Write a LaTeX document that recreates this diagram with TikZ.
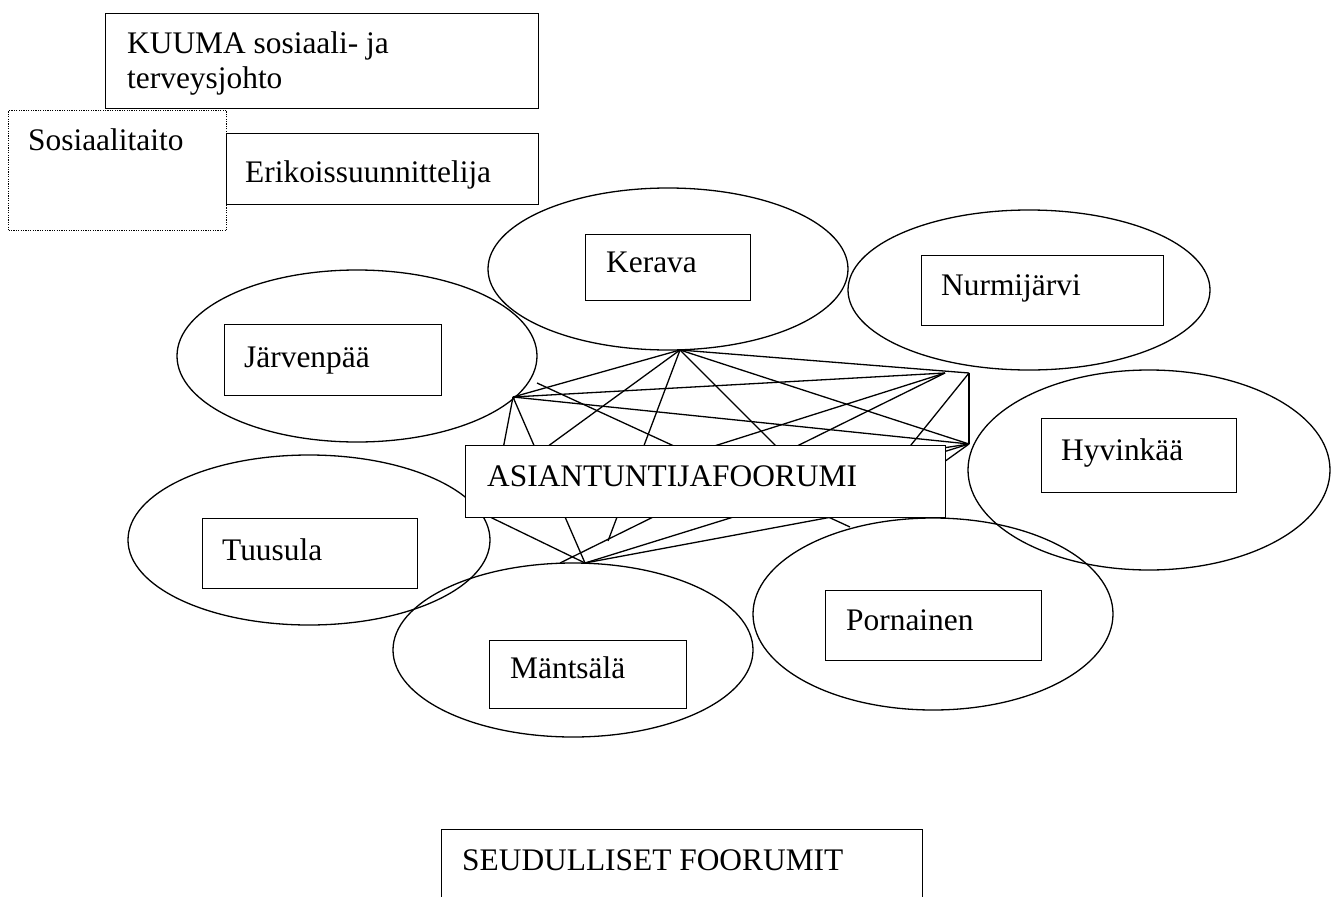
\documentclass[tikz,border=0pt]{standalone}
\usepackage{fontspec}
\setmainfont{Liberation Serif}
\usetikzlibrary{shapes.geometric}
\tikzset{
  ell/.style={draw, ellipse, line width=1.3pt, inner sep=0pt},
  box/.style={draw, rectangle, line width=1.3pt, fill=white, inner sep=0pt, anchor=north west},
  dotbox/.style={draw, rectangle, line width=1.2pt, inner sep=0pt, anchor=north west, dash pattern=on 1.2pt off 1.2pt},
  txt/.style={inner sep=0pt, anchor=base west, font=\fontsize{31.4}{35}\selectfont},
  link/.style={line width=1.3pt}
}
\begin{document}
\begin{tikzpicture}[x=1pt,y=-1pt]
\useasboundingbox (0,0) rectangle (1331,897);
\clip (0,0) rectangle (1331,897);
\fill[white] (0,0) rectangle (1331,897);

% ellipses
\node[ell, minimum width=360pt, minimum height=162pt] (kerE) at (668,269) {};
\node[ell, minimum width=362pt, minimum height=160pt] (nurE) at (1029,290) {};
\node[ell, minimum width=360pt, minimum height=172pt] (jarE) at (357,356) {};
\node[ell, minimum width=362pt, minimum height=200pt] (hyvE) at (1149,470) {};
\node[ell, minimum width=362pt, minimum height=170pt] (tuuE) at (309,540) {};
\node[ell, minimum width=360pt, minimum height=174pt] (manE) at (573,650) {};
\node[ell, minimum width=360pt, minimum height=192pt] (porE) at (933,614) {};

% hub points
\coordinate (K) at (680,350);
\coordinate (J) at (513,397);
\coordinate (J2) at (537,383);
\coordinate (N1) at (945,373);
\coordinate (N2) at (969,373);
\coordinate (H) at (969,444);
\coordinate (M) at (585,563);
\coordinate (M2) at (560,563);
\coordinate (T) at (490,517);
\coordinate (P) at (850,527);
\coordinate (kt) at (470,503);
\coordinate (km) at (608,541);
\coordinate (kp) at (842,512);
\coordinate (np) at (857,512);
\coordinate (Q) at (880,508);

% connectors
\draw[link] (K) -- (J);
\draw[link] (K) -- (N2);
\draw[link] (K) -- (H);
\draw[link] (K) -- (kt);
\draw[link] (K) -- (km);
\draw[link] (K) -- (kp);
\draw[link] (J) -- (N1);
\draw[link] (J) -- (H);
\draw[link] (J) -- (M);
\draw[link] (J) -- (T);
\draw[link] (J2) -- (P);
\draw[link] (N1) -- (T);
\draw[link] (N1) -- (M2);
\draw[link] (N2) -- (H);
\draw[link] (N2) -- (np);
\draw[link] (H) -- (T);
\draw[link] (H) -- (M);
\draw[link] (H) -- (Q);
\draw[link] (M) -- (T);
\draw[link] (M) -- (Q);

% top boxes
\node[box, minimum width=433pt, minimum height=95pt] (kuumaB) at (105,13) {};
\node[txt, anchor=north west, align=left] (kuumaT) at (127,31.5) {KUUMA sosiaali- ja\\terveysjohto};
\node[box, minimum width=312pt, minimum height=71pt] (erikB) at (226,133) {};
\node[txt] (erikT) at (245,182) {Erikoissuunnittelija};
\node[dotbox, minimum width=218pt, minimum height=120pt] (sosB) at (8,110) {};
\node[txt] (sosT) at (28,150) {Sosiaalitaito};

% municipality boxes
\node[box, minimum width=165pt, minimum height=66pt] (kerB) at (585,234) {};
\node[txt] (kerT) at (606,272) {Kerava};
\node[box, minimum width=242pt, minimum height=70pt] (nurB) at (921,255) {};
\node[txt] (nurT) at (941,295) {Nurmijärvi};
\node[box, minimum width=217pt, minimum height=71pt] (jarB) at (224,324) {};
\node[txt] (jarT) at (244,367) {Järvenpää};
\node[box, minimum width=195pt, minimum height=74pt] (hyvB) at (1041,418) {};
\node[txt] (hyvT) at (1061,460) {Hyvinkää};
\node[box, minimum width=215pt, minimum height=70pt] (tuuB) at (202,518) {};
\node[txt] (tuuT) at (222,560) {Tuusula};
\node[box, minimum width=216pt, minimum height=70pt] (porB) at (825,590) {};
\node[txt] (porT) at (846,630) {Pornainen};
\node[box, minimum width=197pt, minimum height=68pt] (manB) at (489,640) {};
\node[txt] (manT) at (510,678) {Mäntsälä};

% forum boxes
\node[box, minimum width=480pt, minimum height=72pt] (asiB) at (465,445) {};
\node[txt] (asiT) at (487,486) {ASIANTUNTIJAFOORUMI};
\node[box, minimum width=481pt, minimum height=90pt] (seuB) at (441,829) {};
\node[txt] (seuT) at (462,870) {SEUDULLISET FOORUMIT};
\end{tikzpicture}
\end{document}
